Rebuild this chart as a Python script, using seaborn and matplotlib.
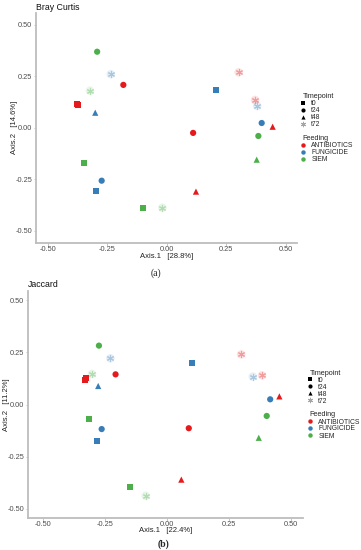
import matplotlib
matplotlib.use("Agg")
import matplotlib.pyplot as plt
import seaborn as sns
import pandas as pd
from matplotlib.lines import Line2D

feeding = ["ANTIBIOTICS"] * 8 + ["FUNGICIDE"] * 7 + ["SIEM"] * 7
timepoint = ["t0", "t0", "t24", "t24", "t48", "t48", "t72", "t72",
             "t0", "t0", "t24", "t24", "t48", "t72", "t72",
             "t0", "t0", "t24", "t24", "t48", "t72", "t72"]
bc_x = [-0.378, -0.371, -0.182, 0.111, 0.445, 0.123, 0.302, 0.371,
        0.207, -0.297, 0.399, -0.273, -0.300, -0.235, 0.380,
        -0.347, -0.098, -0.292, 0.385, 0.378, -0.322, -0.018]
bc_y = [0.115, 0.110, 0.209, -0.024, 0.006, -0.309, 0.270, 0.136,
        0.186, -0.306, 0.024, -0.256, 0.074, 0.261, 0.107,
        -0.171, -0.387, 0.370, -0.039, -0.154, 0.181, -0.387]
jac_x = [-0.328, -0.324, -0.206, 0.089, 0.454, 0.059, 0.300, 0.384,
         0.103, -0.282, 0.417, -0.262, -0.276, -0.227, 0.347,
         -0.312, -0.148, -0.273, 0.403, 0.371, -0.301, -0.085]
jac_y = [0.118, 0.126, 0.145, -0.114, 0.039, -0.361, 0.241, 0.140,
         0.200, -0.177, 0.025, -0.118, 0.089, 0.222, 0.134,
         -0.070, -0.397, 0.283, -0.055, -0.160, 0.147, -0.438]

feed_levels = ["ANTIBIOTICS", "FUNGICIDE", "SIEM"]
time_levels = ["t0", "t24", "t48", "t72"]
palette = {"ANTIBIOTICS": "#E41A1C", "FUNGICIDE": "#377EB8", "SIEM": "#4DAF4A"}
markers = {"t0": "s", "t24": "o", "t48": "^", "t72": (6, 2, 0)}
ticks = [-0.50, -0.25, 0.00, 0.25, 0.50]

df = pd.DataFrame({"Feeding": feeding, "Timepoint": timepoint,
                   "bc_x": bc_x, "bc_y": bc_y, "jac_x": jac_x, "jac_y": jac_y})

sns.set_style("white")
plt.rcParams["font.family"] = ["Liberation Sans", "DejaVu Sans"]

W, H = 361, 550
fig = plt.figure(figsize=(W / 100, H / 100), dpi=100)

def box(l, t, r, b):
    return [l / W, 1 - b / H, (r - l) / W, (b - t) / H]

panels = [
    dict(rect=box(35.7, 13, 296.7, 242.7), x="bc_x", y="bc_y", title="Bray Curtis",
         xl="Axis.1   [28.8%]", yl="Axis.2   [14.6%]", xlim=(-0.55, 0.546), ylim=(-0.557, 0.558),
         leg_x=302.5, tp_y=96.7, fd_y=139, cap="(a)", cap_x=156, cap_y=273,
         ylab_x=15, xlab_y=256),
    dict(rect=box(27.7, 290.7, 302.7, 517.7), x="jac_x", y="jac_y", title="Jaccard",
         xl="Axis.1   [22.4%]", yl="Axis.2   [11.2%]", xlim=(-0.56, 0.548), ylim=(-0.544, 0.547),
         leg_x=309.5, tp_y=373.3, fd_y=415, cap="(b)", cap_x=163, cap_y=544,
         ylab_x=7, xlab_y=531),
]

gray = "#4D4D4D"
spine_c = "#BDBDBD"

for p in panels:
    ax = fig.add_axes(p["rect"])
    solid = df[df["Timepoint"] != "t72"]
    sns.scatterplot(data=solid, x=p["x"], y=p["y"], hue="Feeding", style="Timepoint",
                    hue_order=feed_levels, style_order=["t0", "t24", "t48"],
                    palette=palette, markers={k: markers[k] for k in ["t0", "t24", "t48"]},
                    s=20, linewidth=0, legend=False, ax=ax, zorder=3)
    stars = df[df["Timepoint"] == "t72"]
    sns.scatterplot(data=stars, x=p["x"], y=p["y"], hue="Feeding", hue_order=feed_levels,
                    palette=palette, marker="o", s=38, linewidth=0, alpha=0.12,
                    legend=False, ax=ax, zorder=2)
    for f in feed_levels:
        sub = stars[stars["Feeding"] == f]
        ax.scatter(sub[p["x"]], sub[p["y"]], marker=(6, 2, 0), s=20,
                   color=palette[f], alpha=0.35, linewidths=0.8, zorder=3)
    ax.set_xlim(*p["xlim"])
    ax.set_ylim(*p["ylim"])
    ax.set_xticks(ticks)
    ax.set_yticks(ticks)
    ax.set_xticklabels([f"{t:.2f}" for t in ticks])
    ax.set_yticklabels([f"{t:.2f}" for t in ticks])
    ax.tick_params(axis="both", labelsize=5.3, colors=spine_c, labelcolor=gray,
                   length=1.8, width=0.6, pad=0.8, bottom=True, left=True)
    for s in ["top", "right"]:
        ax.spines[s].set_visible(False)
    for s in ["left", "bottom"]:
        ax.spines[s].set_color(spine_c)
        ax.spines[s].set_linewidth(1.3)
    l, b, w, h = p["rect"]
    ax.set_xlabel(p["xl"], fontsize=5.5, color="#222222")
    ax.set_ylabel(p["yl"], fontsize=5.5, color="#222222")
    ax.xaxis.set_label_coords(0.5, ((1 - p["xlab_y"] / H) - b) / h)
    ax.yaxis.set_label_coords((p["ylab_x"] / W - l) / w, 0.5)
    ax.xaxis.label.set_va("center")
    ax.yaxis.label.set_va("center")
    ax.set_title(p["title"], fontsize=6.3, loc="left", pad=2.5, color="#111111")

    # legends
    lx = p["leg_x"]
    fig.text(lx / W, 1 - p["tp_y"] / H, "Timepoint", fontsize=5.2, va="center", ha="left")
    th = [Line2D([], [], linestyle="", marker=markers[t], color="black",
                 markersize=3.0 if t != "t72" else 3.8,
                 alpha=1 if t != "t72" else 0.35, markeredgewidth=0.7 if t == "t72" else 0)
          for t in time_levels]
    fig.legend(th, time_levels, loc="upper left", frameon=False, fontsize=4.9,
               bbox_to_anchor=(lx / W - 0.004, 1 - (p["tp_y"] + 3.5) / H),
               handlelength=0.6, handletextpad=0.9, labelspacing=0.0,
               borderpad=0, borderaxespad=0)
    fig.text(lx / W, 1 - p["fd_y"] / H, "Feeding", fontsize=5.2, va="center", ha="left")
    fh = [Line2D([], [], linestyle="", marker="o", color=palette[f], markersize=3.2,
                 markeredgewidth=0) for f in feed_levels]
    fig.legend(fh, feed_levels, loc="upper left", frameon=False, fontsize=4.9,
               bbox_to_anchor=(lx / W - 0.004, 1 - (p["fd_y"] + 3.5) / H),
               handlelength=0.6, handletextpad=0.9, labelspacing=0.0,
               borderpad=0, borderaxespad=0)
    fig.text(p["cap_x"] / W, 1 - p["cap_y"] / H, p["cap"], fontsize=7, ha="center", va="center",
             family=["Liberation Serif", "DejaVu Serif"],
             weight="normal" if p["cap"] == "(a)" else "bold")

fig.savefig("out.png", dpi=100)
